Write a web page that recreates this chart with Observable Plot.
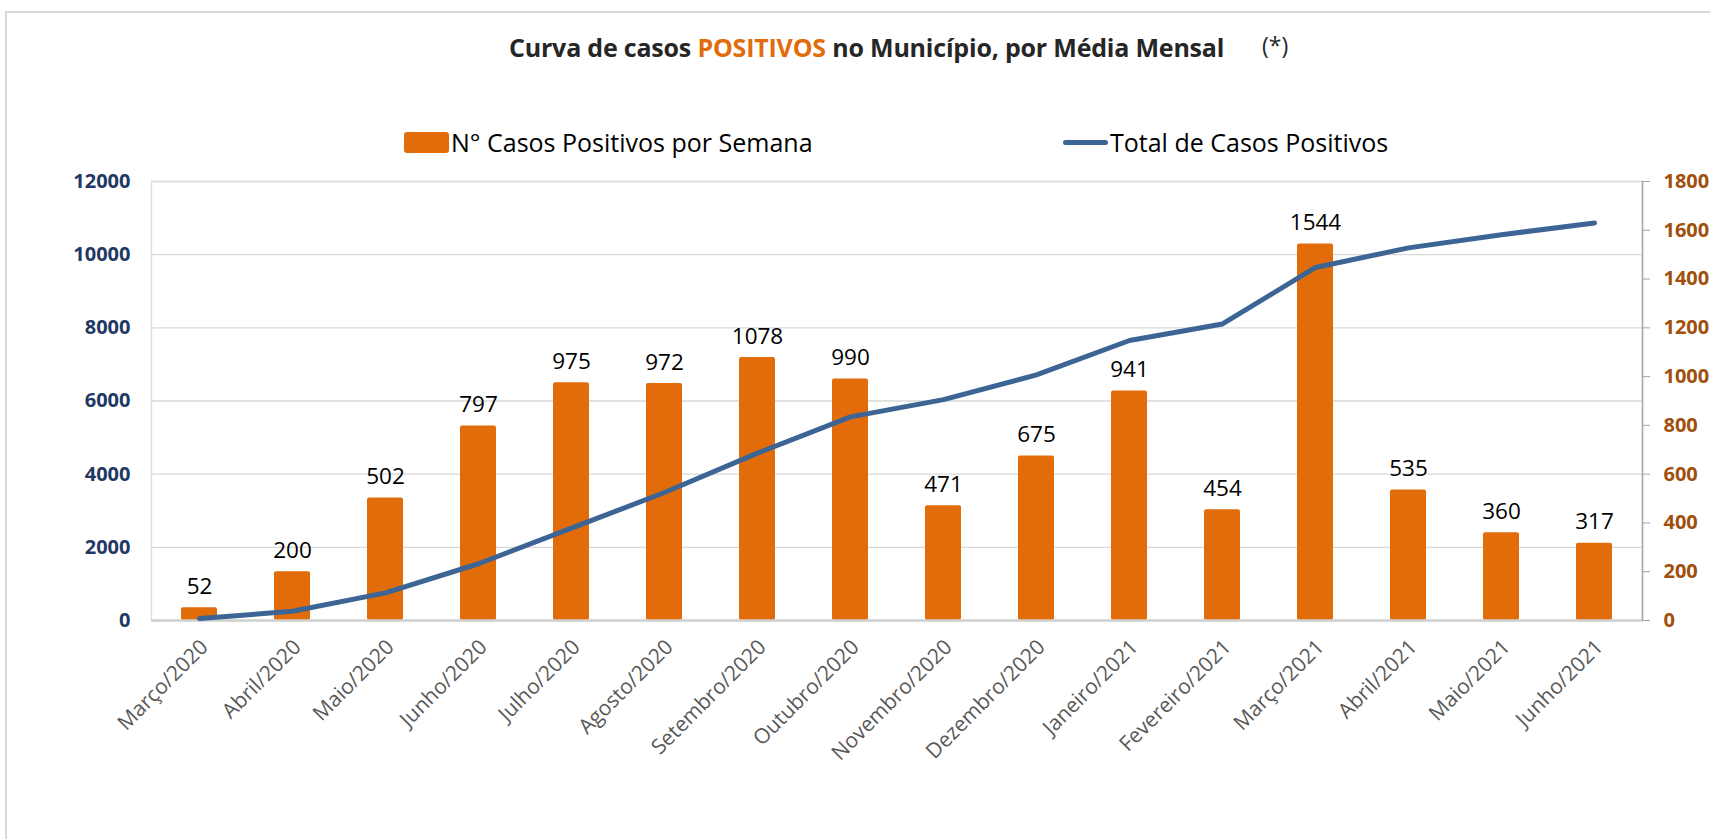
<!DOCTYPE html>
<html><head><meta charset="utf-8">
<script src="https://cdn.jsdelivr.net/npm/d3@7"></script>
<script src="https://cdn.jsdelivr.net/npm/@observablehq/plot@0.6"></script>
<style>
body{margin:0;background:#fff;font-family:"Open Sans",sans-serif;}
#wrap{position:relative;width:1710px;height:839px;overflow:hidden;background:#fff;}
#border{position:absolute;left:5px;top:11px;right:-10px;bottom:-10px;border-top:2px solid #d9d9d9;border-left:2px solid #d9d9d9;}
#title{position:absolute;left:509px;top:31px;font-weight:700;font-size:25px;color:#262626;white-space:pre;line-height:32px;letter-spacing:-0.2px;}
#title span{color:#e36c0a;}
#star{position:absolute;left:1262px;top:29px;font-size:23px;color:#262626;line-height:32px;}
.leg{position:absolute;top:125px;font-size:25px;color:#000;line-height:34px;white-space:pre;}
#sw1{position:absolute;left:404px;top:132px;width:45px;height:21px;background:#e36c0a;border-radius:3px;}
#sw2{position:absolute;left:1063px;top:140px;width:45px;height:5px;background:#3c6595;border-radius:3px;}
#chart{position:absolute;left:0;top:161px;}
</style></head>
<body>
<div id="wrap">
<div id="border"></div>
<div id="title">Curva de casos <span>POSITIVOS</span> no Município, por Média Mensal</div>
<div id="star">(*)</div>
<div id="sw1"></div><div class="leg" style="left:451px">N° Casos Positivos por Semana</div>
<div id="sw2"></div><div class="leg" style="left:1110px">Total de Casos Positivos</div>
<div id="chart"></div>
</div>
<script>
const months = ["Março/2020","Abril/2020","Maio/2020","Junho/2020","Julho/2020","Agosto/2020","Setembro/2020","Outubro/2020","Novembro/2020","Dezembro/2020","Janeiro/2021","Fevereiro/2021","Março/2021","Abril/2021","Maio/2021","Junho/2021"];
const casosMes = [52,200,502,797,975,972,1078,990,471,675,941,454,1544,535,360,317];
const totalCasos = [52,252,754,1551,2526,3498,4576,5566,6037,6712,7653,8107,9651,10186,10546,10863];
const leftTicks = [0,2000,4000,6000,8000,10000,12000];
const rightTicks = [0,200,400,600,800,1000,1200,1400,1600,1800];

const k = 12000/1800; // right-axis units to left-axis units
const data = months.map((m,i)=>({mes:m, casos:casosMes[i], total:totalCasos[i]}));

const plot = Plot.plot({
  width: 1710,
  height: 639,
  marginTop: 20,
  marginBottom: 180,
  marginLeft: 151,
  marginRight: 68,
  style: {fontFamily: "'Open Sans', sans-serif", background: "transparent"},
  x: {domain: months, paddingInner: 0.61, paddingOuter: 0.305, label: null},
  y: {domain: [0, 12000], label: null},
  marks: [
    Plot.gridY(leftTicks, {stroke: "#d9d9d9", strokeOpacity: 1, strokeWidth: 1.3}),
    Plot.frame({stroke: "#dcdcdc", strokeWidth: 1.3}),
    Plot.barY(data, {x: "mes", y: d => d.casos * k, fill: "#e36c0a", rx: 2}),
    Plot.ruleY([0], {stroke: "#d0d0d0", strokeWidth: 2.5}),
    Plot.line(data, {x: "mes", y: "total", stroke: "#3c6595", strokeWidth: 5, strokeLinecap: "round", strokeLinejoin: "round"}),
    Plot.text(data, {x: "mes", y: d => d.casos * k, text: d => String(d.casos), dy: -21, fontSize: 22.5, fill: "#000"}),
    Plot.axisY(leftTicks, {anchor: "left", tickSize: 0, tickPadding: 21, fontSize: 20, fontWeight: 700, fill: "#1f3864", tickFormat: d => String(d), label: null}),
    Plot.axisY(rightTicks.map(v => v * k), {anchor: "right", tickSize: 7, tickPadding: 14, fontSize: 20, fontWeight: 700, fill: "#a0500c", stroke: "#a6a6a6", tickFormat: d => String(Math.round(d / k)), label: null}),
    Plot.frame({anchor: "right", stroke: "#a6a6a6", strokeWidth: 1.5}),
    Plot.axisX({tickRotate: -45, tickSize: 0, tickPadding: 14, dx: 5, dy: 9, fontSize: 21, fill: "#595959", label: null})
  ]
});
document.getElementById("chart").appendChild(plot);
</script>
</body></html>
